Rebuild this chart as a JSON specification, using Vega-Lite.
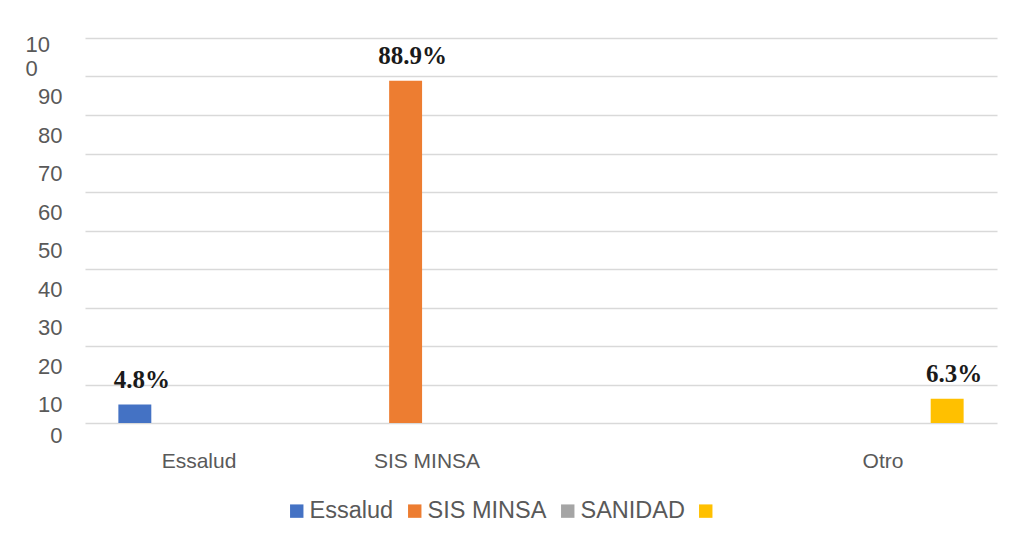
{
  "$schema": "https://vega.github.io/schema/vega-lite/v6.json",
  "autosize": {"type": "none"},
  "width": 912,
  "height": 385,
  "padding": {"left": 85, "top": 38, "right": 22, "bottom": 121},
  "background": "white",
  "config": {"view": {"stroke": null}},
  "data": {
    "values": [
      {"categoria": "Essalud", "serie": "Essalud", "valor": 4.8, "etiqueta": "4.8%"},
      {"categoria": "SIS MINSA", "serie": "SIS MINSA", "valor": 88.9, "etiqueta": "88.9%"},
      {"categoria": "Otro", "serie": "Otro", "valor": 6.3, "etiqueta": "6.3%"}
    ]
  },
  "encoding": {
    "x": {
      "field": "categoria",
      "type": "nominal",
      "scale": {"domain": ["Essalud", "SIS MINSA", "SANIDAD", "Otro"], "paddingInner": 0, "paddingOuter": 0},
      "axis": {
        "title": null,
        "domain": false,
        "ticks": false,
        "labelAngle": 0,
        "labelExpr": "datum.value == 'SANIDAD' ? '' : datum.label",
        "labelFont": "Liberation Sans",
        "labelFontSize": 21,
        "labelColor": "#595959",
        "labelPadding": 27
      }
    },
    "xOffset": {
      "field": "serie",
      "type": "nominal",
      "scale": {"domain": ["Essalud", "SIS MINSA", "SANIDAD", "Otro"], "paddingInner": 0.23, "paddingOuter": 0.78}
    },
    "y": {
      "field": "valor",
      "type": "quantitative",
      "scale": {"domain": [0, 100], "nice": false},
      "axis": {
        "title": null,
        "domain": false,
        "ticks": false,
        "values": [0, 10, 20, 30, 40, 50, 60, 70, 80, 90, 100],
        "labelExpr": "datum.value == 100 ? ['10', '0'] : datum.label",
        "labelFont": "Liberation Sans",
        "labelFontSize": 22,
        "labelColor": "#595959",
        "labelPadding": {"condition": {"test": "datum.value == 100", "value": 60}, "value": 23},
        "labelAlign": {"condition": {"test": "datum.value == 100", "value": "left"}, "value": "right"},
        "labelOffset": {"condition": [{"test": "datum.value == 0", "value": 12}, {"test": "datum.value == 100", "value": 6}], "value": 20},
        "labelLineHeight": 24,
        "labelOverlap": false,
        "labelFlush": false,
        "gridColor": "#d9d9d9",
        "gridWidth": 1.5
      }
    }
  },
  "layer": [
    {
      "mark": {"type": "bar"},
      "encoding": {
        "color": {
          "field": "serie",
          "type": "nominal",
          "scale": {
            "domain": ["Essalud", "SIS MINSA", "SANIDAD", "Otro"],
            "range": ["#4472C4", "#ED7D31", "#A5A5A5", "#FFC000"]
          },
          "legend": {
            "title": null,
            "orient": "none",
            "direction": "horizontal",
            "legendX": 200,
            "legendY": 461,
            "padding": 0,
            "symbolType": "square",
            "symbolSize": 180,
            "symbolStrokeWidth": 0,
            "labelFont": "Liberation Sans",
            "labelFontSize": 23.5,
            "labelColor": "#595959",
            "labelOffset": 1,
            "columnPadding": 9,
            "labelExpr": "datum.label == 'Otro' ? '' : datum.label"
          }
        }
      }
    },
    {
      "mark": {
        "type": "text",
        "baseline": "bottom",
        "dy": -12,
        "dx": 7,
        "font": "Liberation Serif",
        "fontWeight": "bold",
        "fontSize": 25,
        "color": "#1a1a1a"
      },
      "encoding": {
        "text": {"field": "etiqueta", "type": "nominal"}
      }
    }
  ]
}
